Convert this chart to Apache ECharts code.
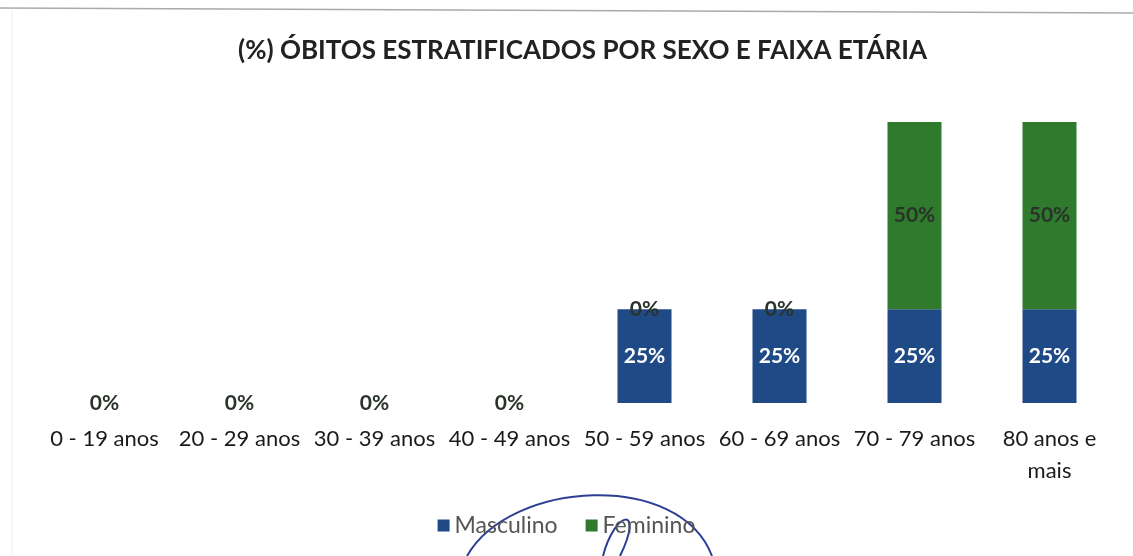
<!DOCTYPE html>
<html>
<head>
<meta charset="utf-8">
<script src="https://cdn.jsdelivr.net/npm/echarts@6/dist/echarts.min.js"></script>
<style>
  html, body { margin: 0; padding: 0; background: #fff; }
  #chart { width: 1133px; height: 556px; }
</style>
</head>
<body>
<div id="chart"></div>
<script>
// faixas etárias
const categories = ['0 - 19 anos', '20 - 29 anos', '30 - 39 anos', '40 - 49 anos',
  '50 - 59 anos', '60 - 69 anos', '70 - 79 anos', '80 anos e mais'];
const masculino = [0, 0, 0, 0, 25, 25, 25, 25];
const feminino = [0, 0, 0, 0, 0, 0, 50, 50];

const FONT = 'Lato, "Open Sans", sans-serif';

const chart = echarts.init(document.getElementById('chart'));

chart.setOption({
  animation: false,
  title: {
    text: '(%) ÓBITOS ESTRATIFICADOS POR SEXO E FAIXA ETÁRIA',
    left: 233,
    top: 33,
    textStyle: { fontFamily: FONT, fontSize: 26, fontWeight: 'bold', color: '#222' }
  },
  legend: {
    top: 509,
    left: 'center',
    itemWidth: 12,
    itemHeight: 12,
    itemGap: 28,
    icon: 'rect',
    textStyle: { fontFamily: FONT, fontSize: 23, color: '#555' },
    data: ['Masculino', 'Feminino']
  },
  grid: { left: 37, right: 16, top: 122, bottom: 153 },
  xAxis: {
    type: 'category',
    data: categories,
    axisLine: { show: false },
    axisTick: { show: false },
    axisLabel: {
      interval: 0,
      margin: 20,
      fontFamily: FONT,
      fontSize: 22,
      color: '#1a1a1a',
      lineHeight: 32,
      formatter: v => v === '80 anos e mais' ? '80 anos e\nmais' : v
    }
  },
  yAxis: {
    type: 'value',
    min: 0,
    max: 75,
    show: false
  },
  series: [
    {
      name: 'Masculino',
      type: 'bar',
      stack: 'total',
      barWidth: '40%',
      itemStyle: { color: '#1f4a86' },
      label: {
        show: true,
        position: 'inside',
        formatter: '{c}%',
        fontFamily: FONT,
        fontSize: 21,
        fontWeight: 'bold',
        color: '#fff'
      },
      data: masculino
    },
    {
      name: 'Feminino',
      type: 'bar',
      stack: 'total',
      itemStyle: { color: '#2f7a2c' },
      label: {
        show: true,
        position: 'inside',
        formatter: '{c}%',
        fontFamily: FONT,
        fontSize: 21,
        fontWeight: 'bold',
        color: '#2a332a'
      },
      data: feminino
    }
  ],
  graphic: [
    { type: 'line', shape: { x1: 0, y1: 8, x2: 1133, y2: 13 }, style: { stroke: '#aaa', lineWidth: 1.5 } },
    { type: 'line', shape: { x1: 12, y1: 10, x2: 12, y2: 556 }, style: { stroke: '#eee', lineWidth: 1 } },
    // traço da assinatura à mão sobre a legenda
    { type: 'bezierCurve', shape: { x1: 467, y1: 556, cpx1: 510, cpy1: 480, cpx2: 680, cpy2: 470, x2: 712, y2: 556 },
      style: { stroke: '#2d3f94', lineWidth: 2, fill: 'none' } },
    { type: 'bezierCurve', shape: { x1: 603, y1: 556, cpx1: 615, cpy1: 510, cpx2: 645, cpy2: 505, x2: 620, y2: 556 },
      style: { stroke: '#2d3f94', lineWidth: 2, fill: 'none' } }
  ]
});
</script>
</body>
</html>
